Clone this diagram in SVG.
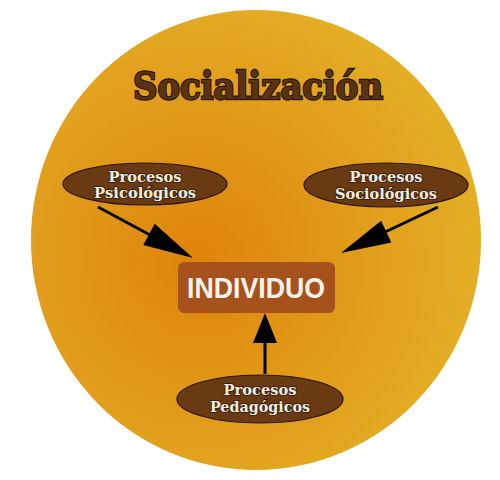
<svg xmlns="http://www.w3.org/2000/svg" width="500" height="480" viewBox="0 0 500 480">
<defs>
<radialGradient id="bg" cx="200" cy="260" r="270" gradientUnits="userSpaceOnUse">
<stop offset="0" stop-color="#de840a"/>
<stop offset="0.55" stop-color="#e19a1a"/>
<stop offset="1" stop-color="#e3ad24"/>
</radialGradient>
<style>
.oval{fill:#6a3a12;stroke:#2a1606;stroke-width:1.2}
.lbl{font-family:"DejaVu Serif","Liberation Serif",serif;font-weight:bold;font-size:14px;fill:#f2eee2;stroke:#3a2008;stroke-width:1.8;paint-order:stroke;text-anchor:middle}
.ln{stroke:#000;stroke-width:3;fill:none}
.hd{fill:#000}
</style>
</defs>
<rect width="500" height="480" fill="#fff"/>
<ellipse cx="256" cy="240" rx="225" ry="230" fill="url(#bg)"/>
<text x="258" y="99" font-family="DejaVu Serif, Liberation Serif, serif" font-weight="bold" font-size="38" fill="#5a3412" stroke="#2a1505" stroke-width="2.4" paint-order="stroke" text-anchor="middle" textLength="250" lengthAdjust="spacingAndGlyphs">Socialización</text>
<g id="connectors">
<line class="ln" x1="98" y1="207" x2="152" y2="236"/>
<polygon class="hd" points="193,258 143.3,244.9 154.7,223.7"/>
<line class="ln" x1="438" y1="207" x2="383" y2="233"/>
<polygon class="hd" points="341,253 391.3,242.4 381.1,220.8"/>
<line class="ln" x1="265" y1="374" x2="265" y2="340"/>
<polygon class="hd" points="265,313 253,343 277,343"/>
</g>
<g id="individuo">
<rect x="178" y="262" width="157" height="51" rx="6" fill="#a6521c"/>
<text x="256" y="298" font-family="Liberation Sans, Arial, sans-serif" font-weight="bold" font-size="30" fill="#f4f2ea" text-anchor="middle" textLength="138" lengthAdjust="spacingAndGlyphs">INDIVIDUO</text>
</g>
<g id="psicologicos">
<ellipse class="oval" cx="145" cy="184" rx="82" ry="21"/>
<text class="lbl" x="145" y="182" textLength="73" lengthAdjust="spacingAndGlyphs">Procesos</text>
<text class="lbl" x="145" y="198" textLength="102" lengthAdjust="spacingAndGlyphs">Psicológicos</text>
</g>
<g id="sociologicos">
<ellipse class="oval" cx="386" cy="185" rx="82" ry="22"/>
<text class="lbl" x="386" y="182" textLength="73" lengthAdjust="spacingAndGlyphs">Procesos</text>
<text class="lbl" x="386" y="199" textLength="102" lengthAdjust="spacingAndGlyphs">Sociológicos</text>
</g>
<g id="pedagogicos">
<ellipse class="oval" cx="260" cy="399" rx="83" ry="24"/>
<text class="lbl" x="260" y="395" textLength="73" lengthAdjust="spacingAndGlyphs">Procesos</text>
<text class="lbl" x="260" y="412" textLength="100" lengthAdjust="spacingAndGlyphs">Pedagógicos</text>
</g>
</svg>
